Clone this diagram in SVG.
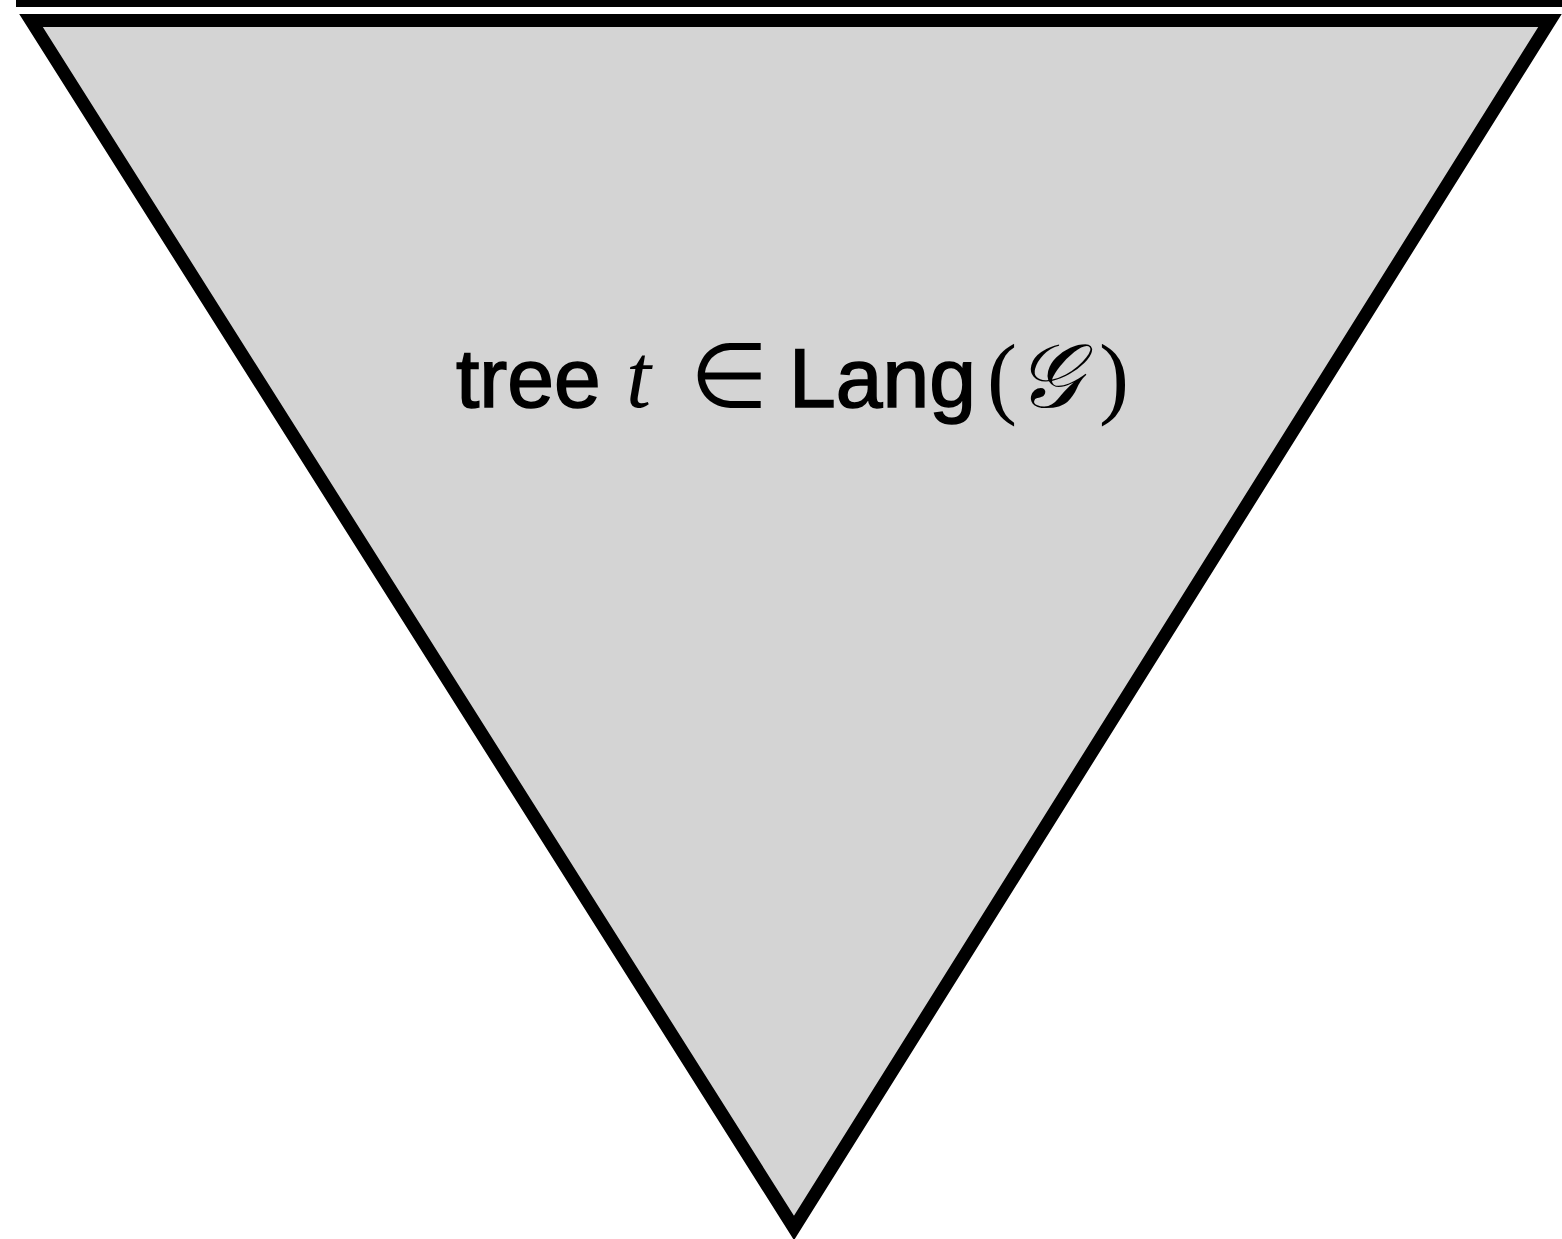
<svg xmlns="http://www.w3.org/2000/svg" width="1562" height="1239" viewBox="0 0 1562 1239">
<style>
.tri{fill:#d4d4d4;stroke:#000;stroke-width:13;stroke-linejoin:miter;stroke-miterlimit:10}
.sans{font-family:"Liberation Sans",Arial,sans-serif;font-size:84px;fill:#000;stroke:#000;stroke-width:1.6}
.ser{font-family:"Liberation Serif","Times New Roman",serif;font-size:90px;fill:#000}
</style>
<rect width="1562" height="1239" fill="#fff"/>
<g id="topline"><rect x="16" y="0" width="1546" height="7" fill="#000"/></g>
<g id="tree">
<polygon class="tri" points="31,20.5 1550,20.5 794,1228"/>
<text y="407"><tspan class="sans" x="456">tree</tspan><tspan class="ser" x="626" font-style="italic" font-size="94">t</tspan><tspan class="ser" x="690" font-size="86">∈</tspan><tspan class="sans" x="789">Lang</tspan><tspan class="ser" x="987">(</tspan><tspan class="ser" x="1016" font-style="italic" font-family="DejaVu Serif, serif" font-size="98">𝒢</tspan><tspan class="ser" x="1099">)</tspan></text>
</g>
<g id="connectors"></g>
</svg>
